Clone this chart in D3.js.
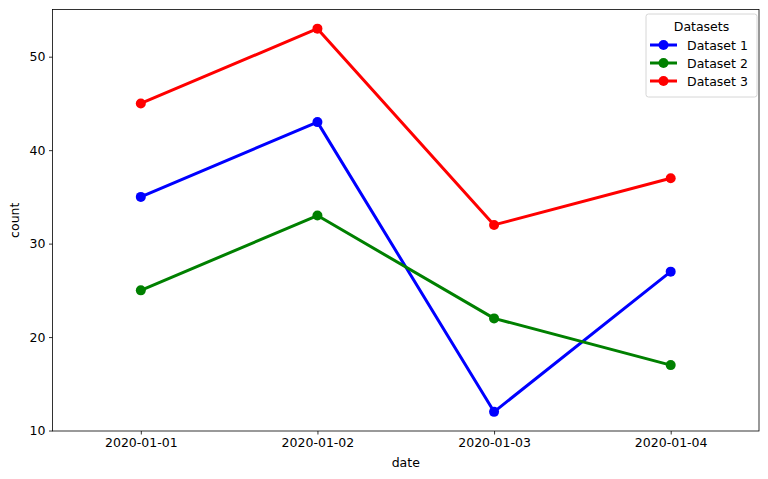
<!DOCTYPE html>
<html><head><meta charset="utf-8">
<script src="https://cdn.jsdelivr.net/npm/d3@7"></script>
<style>body{margin:0;background:#fff}svg{display:block}text{font-family:"DejaVu Sans",sans-serif}</style>
</head><body><svg id="c" width="768" height="479"></svg>
<script>
const dates = ["2020-01-01","2020-01-02","2020-01-03","2020-01-04"];
const seriesNames = ["Dataset 1","Dataset 2","Dataset 3"];
const seriesColors = ["#0000ff","#008000","#ff0000"];
const dataset1 = [35,43,12,27];
const dataset2 = [25,33,22,17];
const dataset3 = [45,53,32,37];
const yTicks = [10,20,30,40,50];
const series = [dataset1,dataset2,dataset3];

const svg = d3.select("#c");
const L=52.5,R=759,T=9.5,B=431;
const x = d3.scalePoint().domain(dates).range([L,R]).padding(0.5);
const y = d3.scaleLinear().domain([9.95,55.05]).range([B,T]);
const fs = 12.5;

// axes
const gx = svg.append("g").attr("transform",`translate(0,${B})`)
  .call(d3.axisBottom(x).tickSize(3.5).tickPadding(3.5));
const gy = svg.append("g").attr("transform",`translate(${L},0)`)
  .call(d3.axisLeft(y).tickValues(yTicks).tickSize(3.5).tickPadding(3.5));
[gx,gy].forEach(g=>{g.select(".domain").remove();
  g.selectAll("text").attr("font-size",fs).attr("fill","#000").attr("font-family","DejaVu Sans");
  g.selectAll("line").attr("stroke","#000").attr("stroke-width",0.8);});
svg.append("rect").attr("x",L).attr("y",T).attr("width",R-L).attr("height",B-T)
  .attr("fill","none").attr("stroke","#000").attr("stroke-width",0.8);

svg.append("text").attr("x",(L+R)/2).attr("y",467).attr("text-anchor","middle").attr("font-size",fs).text("date");
svg.append("text").attr("transform",`translate(19,${(T+B)/2}) rotate(-90)`).attr("text-anchor","middle").attr("font-size",fs).text("count");

const line = d3.line().x((d,i)=>x(dates[i])).y(d=>y(d));
series.forEach((s,k)=>{
  svg.append("path").datum(s).attr("d",line).attr("fill","none")
    .attr("stroke",seriesColors[k]).attr("stroke-width",3).attr("stroke-linejoin","round").attr("stroke-linecap","round");
  svg.selectAll(null).data(s).enter().append("circle")
    .attr("cx",(d,i)=>x(dates[i])).attr("cy",d=>y(d)).attr("r",5).attr("fill",seriesColors[k]);
});

// legend
const lg = svg.append("g");
lg.append("rect").attr("x",646).attr("y",14).attr("width",111).attr("height",83).attr("rx",2.5)
  .attr("fill","#fff").attr("fill-opacity",0.8).attr("stroke","#ccc").attr("stroke-width",0.8);
lg.append("text").attr("x",701.5).attr("y",31).attr("text-anchor","middle").attr("font-size",fs).text("Datasets");
seriesNames.forEach((n,k)=>{
  const yy = 45+k*18;
  lg.append("line").attr("x1",650).attr("x2",677).attr("y1",yy).attr("y2",yy).attr("stroke",seriesColors[k]).attr("stroke-width",3);
  lg.append("circle").attr("cx",663.5).attr("cy",yy).attr("r",5).attr("fill",seriesColors[k]);
  lg.append("text").attr("x",687).attr("y",yy+4.5).attr("font-size",fs).text(n);
});
</script></body></html>
